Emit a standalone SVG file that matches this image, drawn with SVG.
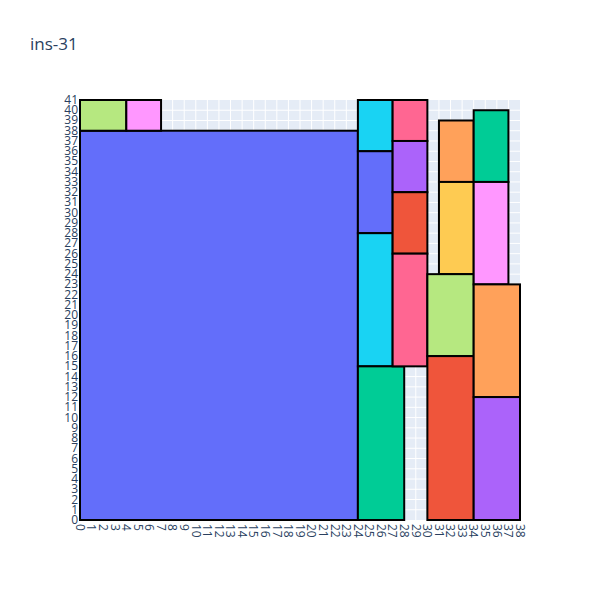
<svg xmlns="http://www.w3.org/2000/svg" width="600" height="600" viewBox="0 0 600 600">
<style>
.bg{fill:#e5ecf6}
.grid line{stroke:#ffffff;stroke-width:1}
.r{stroke:#000000;stroke-width:2}
.t{font-family:"Open Sans","Liberation Sans",sans-serif;font-size:12px;fill:#2a3f5f}
.yl{text-anchor:end}
.title{font-family:"Open Sans","Liberation Sans",sans-serif;font-size:17px;fill:#2a3f5f}
</style>
<rect width="600" height="600" fill="#ffffff"/>
<text class="title" x="30" y="50">ins-31</text>
<rect class="bg" x="80" y="100" width="440" height="420"/>
<g class="grid">
<line x1="91.58" y1="100" x2="91.58" y2="520"/><line x1="103.16" y1="100" x2="103.16" y2="520"/><line x1="114.74" y1="100" x2="114.74" y2="520"/><line x1="126.32" y1="100" x2="126.32" y2="520"/><line x1="137.89" y1="100" x2="137.89" y2="520"/><line x1="149.47" y1="100" x2="149.47" y2="520"/><line x1="161.05" y1="100" x2="161.05" y2="520"/><line x1="172.63" y1="100" x2="172.63" y2="520"/><line x1="184.21" y1="100" x2="184.21" y2="520"/><line x1="195.79" y1="100" x2="195.79" y2="520"/><line x1="207.37" y1="100" x2="207.37" y2="520"/><line x1="218.95" y1="100" x2="218.95" y2="520"/><line x1="230.53" y1="100" x2="230.53" y2="520"/><line x1="242.11" y1="100" x2="242.11" y2="520"/><line x1="253.68" y1="100" x2="253.68" y2="520"/><line x1="265.26" y1="100" x2="265.26" y2="520"/><line x1="276.84" y1="100" x2="276.84" y2="520"/><line x1="288.42" y1="100" x2="288.42" y2="520"/><line x1="300" y1="100" x2="300" y2="520"/><line x1="311.58" y1="100" x2="311.58" y2="520"/><line x1="323.16" y1="100" x2="323.16" y2="520"/><line x1="334.74" y1="100" x2="334.74" y2="520"/><line x1="346.32" y1="100" x2="346.32" y2="520"/><line x1="357.89" y1="100" x2="357.89" y2="520"/><line x1="369.47" y1="100" x2="369.47" y2="520"/><line x1="381.05" y1="100" x2="381.05" y2="520"/><line x1="392.63" y1="100" x2="392.63" y2="520"/><line x1="404.21" y1="100" x2="404.21" y2="520"/><line x1="415.79" y1="100" x2="415.79" y2="520"/><line x1="427.37" y1="100" x2="427.37" y2="520"/><line x1="438.95" y1="100" x2="438.95" y2="520"/><line x1="450.53" y1="100" x2="450.53" y2="520"/><line x1="462.11" y1="100" x2="462.11" y2="520"/><line x1="473.68" y1="100" x2="473.68" y2="520"/><line x1="485.26" y1="100" x2="485.26" y2="520"/><line x1="496.84" y1="100" x2="496.84" y2="520"/><line x1="508.42" y1="100" x2="508.42" y2="520"/>
<line x1="80" y1="509.76" x2="520" y2="509.76"/><line x1="80" y1="499.51" x2="520" y2="499.51"/><line x1="80" y1="489.27" x2="520" y2="489.27"/><line x1="80" y1="479.02" x2="520" y2="479.02"/><line x1="80" y1="468.78" x2="520" y2="468.78"/><line x1="80" y1="458.54" x2="520" y2="458.54"/><line x1="80" y1="448.29" x2="520" y2="448.29"/><line x1="80" y1="438.05" x2="520" y2="438.05"/><line x1="80" y1="427.8" x2="520" y2="427.8"/><line x1="80" y1="417.56" x2="520" y2="417.56"/><line x1="80" y1="407.32" x2="520" y2="407.32"/><line x1="80" y1="397.07" x2="520" y2="397.07"/><line x1="80" y1="386.83" x2="520" y2="386.83"/><line x1="80" y1="376.59" x2="520" y2="376.59"/><line x1="80" y1="366.34" x2="520" y2="366.34"/><line x1="80" y1="356.1" x2="520" y2="356.1"/><line x1="80" y1="345.85" x2="520" y2="345.85"/><line x1="80" y1="335.61" x2="520" y2="335.61"/><line x1="80" y1="325.37" x2="520" y2="325.37"/><line x1="80" y1="315.12" x2="520" y2="315.12"/><line x1="80" y1="304.88" x2="520" y2="304.88"/><line x1="80" y1="294.63" x2="520" y2="294.63"/><line x1="80" y1="284.39" x2="520" y2="284.39"/><line x1="80" y1="274.15" x2="520" y2="274.15"/><line x1="80" y1="263.9" x2="520" y2="263.9"/><line x1="80" y1="253.66" x2="520" y2="253.66"/><line x1="80" y1="243.41" x2="520" y2="243.41"/><line x1="80" y1="233.17" x2="520" y2="233.17"/><line x1="80" y1="222.93" x2="520" y2="222.93"/><line x1="80" y1="212.68" x2="520" y2="212.68"/><line x1="80" y1="202.44" x2="520" y2="202.44"/><line x1="80" y1="192.2" x2="520" y2="192.2"/><line x1="80" y1="181.95" x2="520" y2="181.95"/><line x1="80" y1="171.71" x2="520" y2="171.71"/><line x1="80" y1="161.46" x2="520" y2="161.46"/><line x1="80" y1="151.22" x2="520" y2="151.22"/><line x1="80" y1="140.98" x2="520" y2="140.98"/><line x1="80" y1="130.73" x2="520" y2="130.73"/><line x1="80" y1="120.49" x2="520" y2="120.49"/><line x1="80" y1="110.24" x2="520" y2="110.24"/>
</g>
<g id="rect-1"><rect class="r" fill="#636efa" x="80" y="130.73" width="277.89" height="389.27"/></g>
<g id="rect-2"><rect class="r" fill="#b6e880" x="80" y="100" width="46.32" height="30.73"/></g>
<g id="rect-3"><rect class="r" fill="#ff97ff" x="126.32" y="100" width="34.73" height="30.73"/></g>
<g id="rect-4"><rect class="r" fill="#19d3f3" x="357.89" y="100" width="34.74" height="51.22"/></g>
<g id="rect-5"><rect class="r" fill="#636efa" x="357.89" y="151.22" width="34.74" height="81.95"/></g>
<g id="rect-6"><rect class="r" fill="#19d3f3" x="357.89" y="233.17" width="34.74" height="133.17"/></g>
<g id="rect-7"><rect class="r" fill="#00cc96" x="357.89" y="366.34" width="46.32" height="153.66"/></g>
<g id="rect-8"><rect class="r" fill="#ff6692" x="392.63" y="100" width="34.74" height="40.98"/></g>
<g id="rect-9"><rect class="r" fill="#ab63fa" x="392.63" y="140.98" width="34.74" height="51.22"/></g>
<g id="rect-10"><rect class="r" fill="#ef553b" x="392.63" y="192.2" width="34.74" height="61.46"/></g>
<g id="rect-11"><rect class="r" fill="#ff6692" x="392.63" y="253.66" width="34.74" height="112.68"/></g>
<g id="rect-12"><rect class="r" fill="#ffa15a" x="438.95" y="120.49" width="34.73" height="61.46"/></g>
<g id="rect-13"><rect class="r" fill="#fecb52" x="438.95" y="181.95" width="34.73" height="92.2"/></g>
<g id="rect-14"><rect class="r" fill="#b6e880" x="427.37" y="274.15" width="46.31" height="81.95"/></g>
<g id="rect-15"><rect class="r" fill="#ef553b" x="427.37" y="356.1" width="46.31" height="163.9"/></g>
<g id="rect-16"><rect class="r" fill="#00cc96" x="473.68" y="110.24" width="34.74" height="71.71"/></g>
<g id="rect-17"><rect class="r" fill="#ff97ff" x="473.68" y="181.95" width="34.74" height="102.44"/></g>
<g id="rect-18"><rect class="r" fill="#ffa15a" x="473.68" y="284.39" width="46.32" height="112.68"/></g>
<g id="rect-19"><rect class="r" fill="#ab63fa" x="473.68" y="397.07" width="46.32" height="122.93"/></g>
<g id="y-labels" class="t yl">
<text x="78" y="524">0</text><text x="78" y="513.76">1</text><text x="78" y="503.51">2</text><text x="78" y="493.27">3</text><text x="78" y="483.02">4</text><text x="78" y="472.78">5</text><text x="78" y="462.54">6</text><text x="78" y="452.29">7</text><text x="78" y="442.05">8</text><text x="78" y="431.8">9</text><text x="78" y="421.56">10</text><text x="78" y="411.32">11</text><text x="78" y="401.07">12</text><text x="78" y="390.83">13</text><text x="78" y="380.59">14</text><text x="78" y="370.34">15</text><text x="78" y="360.1">16</text><text x="78" y="349.85">17</text><text x="78" y="339.61">18</text><text x="78" y="329.37">19</text><text x="78" y="319.12">20</text><text x="78" y="308.88">21</text><text x="78" y="298.63">22</text><text x="78" y="288.39">23</text><text x="78" y="278.15">24</text><text x="78" y="267.9">25</text><text x="78" y="257.66">26</text><text x="78" y="247.41">27</text><text x="78" y="237.17">28</text><text x="78" y="226.93">29</text><text x="78" y="216.68">30</text><text x="78" y="206.44">31</text><text x="78" y="196.2">32</text><text x="78" y="185.95">33</text><text x="78" y="175.71">34</text><text x="78" y="165.46">35</text><text x="78" y="155.22">36</text><text x="78" y="144.98">37</text><text x="78" y="134.73">38</text><text x="78" y="124.49">39</text><text x="78" y="114.24">40</text><text x="78" y="104">41</text>
</g>
<g id="x-labels" class="t">
<text transform="translate(75.8,524) rotate(90)">0</text><text transform="translate(87.38,524) rotate(90)">1</text><text transform="translate(98.96,524) rotate(90)">2</text><text transform="translate(110.54,524) rotate(90)">3</text><text transform="translate(122.12,524) rotate(90)">4</text><text transform="translate(133.69,524) rotate(90)">5</text><text transform="translate(145.27,524) rotate(90)">6</text><text transform="translate(156.85,524) rotate(90)">7</text><text transform="translate(168.43,524) rotate(90)">8</text><text transform="translate(180.01,524) rotate(90)">9</text><text transform="translate(191.59,524) rotate(90)">10</text><text transform="translate(203.17,524) rotate(90)">11</text><text transform="translate(214.75,524) rotate(90)">12</text><text transform="translate(226.33,524) rotate(90)">13</text><text transform="translate(237.91,524) rotate(90)">14</text><text transform="translate(249.48,524) rotate(90)">15</text><text transform="translate(261.06,524) rotate(90)">16</text><text transform="translate(272.64,524) rotate(90)">17</text><text transform="translate(284.22,524) rotate(90)">18</text><text transform="translate(295.8,524) rotate(90)">19</text><text transform="translate(307.38,524) rotate(90)">20</text><text transform="translate(318.96,524) rotate(90)">21</text><text transform="translate(330.54,524) rotate(90)">22</text><text transform="translate(342.12,524) rotate(90)">23</text><text transform="translate(353.69,524) rotate(90)">24</text><text transform="translate(365.27,524) rotate(90)">25</text><text transform="translate(376.85,524) rotate(90)">26</text><text transform="translate(388.43,524) rotate(90)">27</text><text transform="translate(400.01,524) rotate(90)">28</text><text transform="translate(411.59,524) rotate(90)">29</text><text transform="translate(423.17,524) rotate(90)">30</text><text transform="translate(434.75,524) rotate(90)">31</text><text transform="translate(446.33,524) rotate(90)">32</text><text transform="translate(457.91,524) rotate(90)">33</text><text transform="translate(469.48,524) rotate(90)">34</text><text transform="translate(481.06,524) rotate(90)">35</text><text transform="translate(492.64,524) rotate(90)">36</text><text transform="translate(504.22,524) rotate(90)">37</text><text transform="translate(515.8,524) rotate(90)">38</text>
</g>
</svg>
